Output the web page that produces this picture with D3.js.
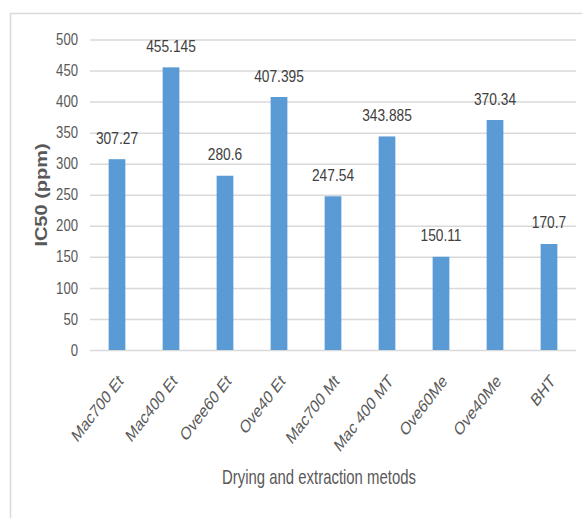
<!DOCTYPE html>
<html>
<head>
<meta charset="utf-8">
<script src="https://cdn.jsdelivr.net/npm/d3@7"></script>
<style>
  body { margin: 0; background: #fff; }
  svg text { font-family: "Liberation Sans", Arial, sans-serif; }
</style>
</head>
<body>
<div id="chart"></div>
<script>
var categories = ["Mac700 Et", "Mac400 Et", "Ovee60 Et", "Ove40 Et", "Mac700 Mt", "Mac 400 MT", "Ove60Me", "Ove40Me", "BHT"];
var values = [307.27, 455.145, 280.6, 407.395, 247.54, 343.885, 150.11, 370.34, 170.7];
var valueLabels = ["307.27", "455.145", "280.6", "407.395", "247.54", "343.885", "150.11", "370.34", "170.7"];
var yTicks = [0, 50, 100, 150, 200, 250, 300, 350, 400, 450, 500];

var width = 582;
var height = 518;
var narrow = 0.82; // text in the picture is squeezed sideways

var svg = d3.select("#chart").append("svg")
    .attr("width", width)
    .attr("height", height);

// chart frame
svg.append("rect")
    .attr("x", 10.5)
    .attr("y", 13.5)
    .attr("width", 600)
    .attr("height", 600)
    .attr("fill", "#fff")
    .attr("stroke", "#d9d9d9")
    .attr("stroke-width", 1.5);

var x = d3.scaleBand()
    .domain(categories)
    .range([90, 576])
    .paddingInner(0.69)
    .paddingOuter(0.345);

var y = d3.scaleLinear()
    .domain([0, 500])
    .range([350, 39.5]);

// gridlines + y labels
var yAxis = d3.axisLeft(y)
    .tickValues(yTicks)
    .tickSize(-(576 - 90))
    .tickPadding(12);

var gy = svg.append("g")
    .attr("transform", "translate(90,0)")
    .call(yAxis);
gy.select(".domain").remove();
gy.selectAll(".tick line")
    .attr("stroke", "#d9d9d9")
    .attr("stroke-width", 1.5);
gy.selectAll(".tick text")
    .attr("fill", "#595959")
    .attr("font-size", 16)
    .attr("font-family", "Liberation Sans, Arial, sans-serif")
    .attr("x", -12 / narrow)
    .attr("transform", "scale(" + narrow + ",1)");

// bars
svg.selectAll(".bar")
    .data(values)
    .enter()
    .append("rect")
    .attr("class", "bar")
    .attr("x", function (d, i) { return x(categories[i]); })
    .attr("y", function (d) { return y(d); })
    .attr("width", x.bandwidth())
    .attr("height", function (d) { return y(0) - y(d); })
    .attr("fill", "#5b9bd5");

// value labels
svg.selectAll(".val")
    .data(values)
    .enter()
    .append("text")
    .attr("class", "val")
    .attr("transform", function (d, i) {
        var cx = x(categories[i]) + x.bandwidth() / 2;
        return "translate(" + cx + "," + (y(d) - 15.5) + ") scale(0.86,1)";
    })
    .attr("text-anchor", "middle")
    .attr("font-size", 16)
    .attr("fill", "#404040")
    .text(function (d, i) { return valueLabels[i]; });

// x labels, rotated 45 then squeezed like the picture
svg.selectAll(".xlab")
    .data(categories)
    .enter()
    .append("text")
    .attr("class", "xlab")
    .attr("transform", function (d) {
        var cx = x(d) + x.bandwidth() / 2;
        return "translate(" + cx + ",373) scale(0.77,1) rotate(-45)";
    })
    .attr("text-anchor", "end")
    .attr("dy", "0.72em")
    .attr("font-size", 18)
    .attr("fill", "#595959")
    .text(function (d) { return d; });

// axis titles
svg.append("text")
    .attr("transform", "translate(47,195) scale(0.82,1) rotate(-90)")
    .attr("text-anchor", "middle")
    .attr("font-size", 20)
    .attr("font-weight", "bold")
    .attr("fill", "#595959")
    .text("IC50 (ppm)");

svg.append("text")
    .attr("transform", "translate(319,484) scale(0.71,1)")
    .attr("text-anchor", "middle")
    .attr("font-size", 21)
    .attr("fill", "#595959")
    .text("Drying and extraction metods");
</script>
</body>
</html>
